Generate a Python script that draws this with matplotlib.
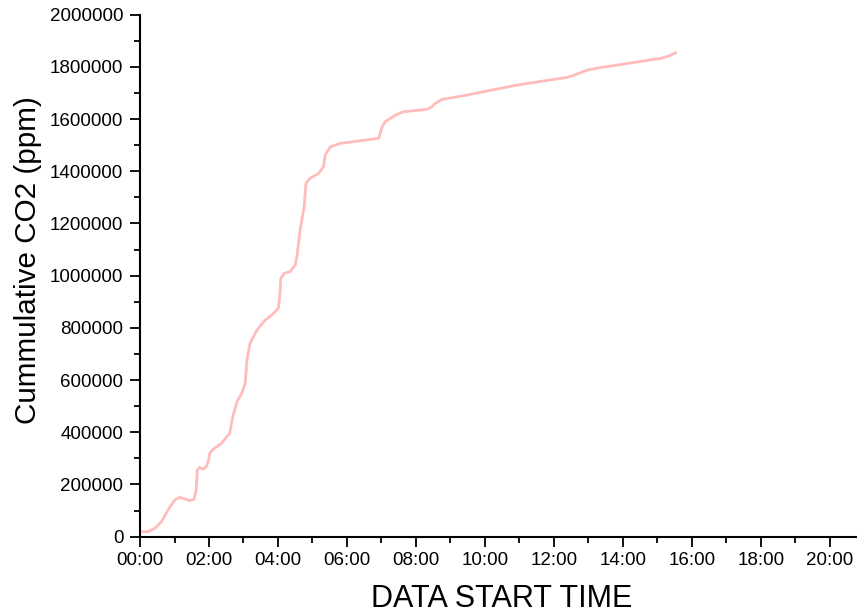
import matplotlib.pyplot as plt
from matplotlib.ticker import MultipleLocator, FuncFormatter

plt.rcParams['font.family'] = ['Liberation Sans', 'DejaVu Sans']

# 시간(시) / 누적 CO2 (ppm) - 그림에서 읽은 값
hours = [0.06, 0.23, 0.43, 0.62, 0.81, 1.01, 1.15, 1.30, 1.44, 1.57, 1.63, 1.66,
         1.73, 1.83, 1.92, 1.99, 2.02, 2.12, 2.36, 2.60, 2.69, 2.81, 2.95, 3.05,
         3.10, 3.19, 3.39, 3.63, 3.82, 4.01, 4.06, 4.08, 4.18, 4.35, 4.50, 4.55,
         4.64, 4.76, 4.81, 4.93, 5.18, 5.32, 5.37, 5.52, 5.81, 6.39, 6.92, 7.02,
         7.11, 7.26, 7.43, 7.64, 8.32, 8.45, 8.56, 8.76, 9.48, 10.93, 12.39, 12.66,
         12.97, 13.35, 13.84, 15.09, 15.33, 15.53]
co2 = [19200, 19200, 32200, 57500, 102300, 140600, 151000, 144400, 137900, 144400,
       178900, 255500, 265900, 258200, 268200, 293800, 319500, 334800, 357800, 396100,
       459700, 517200, 549400, 587700, 676900, 740900, 791900, 830200, 849300, 875000,
       932500, 989900, 1009100, 1015200, 1040900, 1072700, 1175000, 1264200, 1353900,
       1373000, 1392200, 1417500, 1462300, 1494100, 1507100, 1517100, 1526300, 1570700,
       1590000, 1602900, 1617000, 1628200, 1637400, 1646000, 1660300, 1675700, 1692100,
       1730500, 1760000, 1772000, 1787900, 1797500, 1807100, 1832700, 1841600, 1854200]

fig = plt.figure(figsize=(8.57, 6.13), dpi=100)
ax = fig.add_axes([0.1634, 0.1245, 0.835, 0.8515])

ax.plot(hours, co2, color='#ffbcbc', linewidth=2.0, solid_joinstyle='round')

ax.set_xlim(0, 20.75)
ax.set_ylim(0, 2000000)

ax.xaxis.set_major_locator(MultipleLocator(2))
ax.xaxis.set_minor_locator(MultipleLocator(1))
ax.xaxis.set_major_formatter(FuncFormatter(lambda v, p: "%02d:00" % int(round(v))))
ax.yaxis.set_major_locator(MultipleLocator(200000))
ax.yaxis.set_minor_locator(MultipleLocator(100000))
ax.yaxis.set_major_formatter(FuncFormatter(lambda v, p: "%d" % int(round(v))))

ax.spines['top'].set_visible(False)
ax.spines['right'].set_visible(False)
ax.spines['left'].set_linewidth(1.5)
ax.spines['bottom'].set_linewidth(1.5)

ax.tick_params(which='major', direction='out', length=7, width=1.3, labelsize=13.5)
ax.tick_params(which='minor', direction='out', length=4, width=1.3)
ax.tick_params(axis='y', which='major', pad=5)
ax.tick_params(axis='x', which='major', pad=4)

ax.set_xlabel("DATA START TIME", fontsize=22, labelpad=11, x=0.506)
ax.set_ylabel("Cummulative CO2 (ppm)", fontsize=21.3, labelpad=6, y=0.53)

plt.savefig('out.png', dpi=100)
